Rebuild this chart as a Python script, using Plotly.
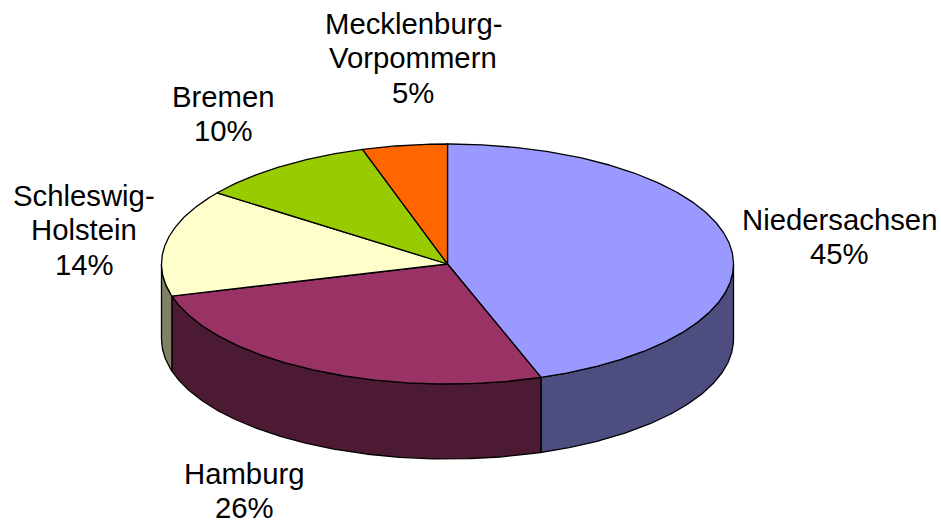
import numpy as np
import plotly.graph_objects as go

categories = ["Niedersachsen", "Hamburg", "Schleswig-Holstein", "Bremen", "Mecklenburg-Vorpommern"]
values = [44.7, 26.0, 14.4, 10.1, 4.8]
top_colors = ["#9999FF", "#993366", "#FFFFCC", "#99CC00", "#FF6600"]
side_colors = ["#4D4D80", "#4D1A33", "#808066", "#4D6600", "#803300"]
label_lines = [["Niedersachsen", "45%"], ["Hamburg", "26%"], ["Schleswig-", "Holstein", "14%"],
               ["Bremen", "10%"], ["Mecklenburg-", "Vorpommern", "5%"]]
label_centers = [(839.5, 219), (244, 473), (84, 195), (223, 96), (413, 23)]

CX, CY, RX, RY, DEPTH = 447.5, 264, 286, 120, 75
FONT = "Liberation Sans, Arial, sans-serif"
LINE_GAP = 34.6


def rim(a0, a1, dy=0):
    t = np.radians(np.linspace(a0, a1, max(int(abs(a1 - a0) * 2), 2)))
    return CX + RX * np.sin(t), CY + dy - RY * np.cos(t)


fig = go.Figure()
edges = np.concatenate([[0], np.cumsum(values)]) / sum(values) * 360

# outer wall: only the part of each slice facing the viewer (90..270 degrees)
for i in range(len(values)):
    a0, a1 = max(edges[i], 90), min(edges[i + 1], 270)
    if a1 <= a0:
        continue
    xt, yt = rim(a0, a1)
    xb, yb = rim(a1, a0, DEPTH)
    fig.add_trace(go.Scatter(x=np.r_[xt, xb, xt[0]], y=np.r_[yt, yb, yt[0]], mode="lines", fill="toself",
                             fillcolor=side_colors[i], line=dict(color="black", width=1.3), hoverinfo="skip"))

# top face
for i, name in enumerate(categories):
    xr, yr = rim(edges[i], edges[i + 1])
    fig.add_trace(go.Scatter(x=np.r_[CX, xr, CX], y=np.r_[CY, yr, CY], mode="lines", fill="toself", name=name,
                             fillcolor=top_colors[i], line=dict(color="black", width=1.3)))

for lines, (lx, ly) in zip(label_lines, label_centers):
    for j, text in enumerate(lines):
        fig.add_annotation(x=lx, y=ly + j * LINE_GAP, text=text, showarrow=False, xanchor="center", yanchor="middle",
                           font=dict(family=FONT, size=29.3, color="black"))

fig.update_layout(width=941, height=520, margin=dict(l=0, r=0, t=0, b=0), showlegend=False,
                  paper_bgcolor="white", plot_bgcolor="white",
                  xaxis=dict(range=[0, 941], visible=False, fixedrange=True),
                  yaxis=dict(range=[520, 0], visible=False, fixedrange=True))
fig.write_html("out.html", config={"displayModeBar": False},
               post_script="document.body.style.margin='0';document.documentElement.style.overflow='hidden';")
